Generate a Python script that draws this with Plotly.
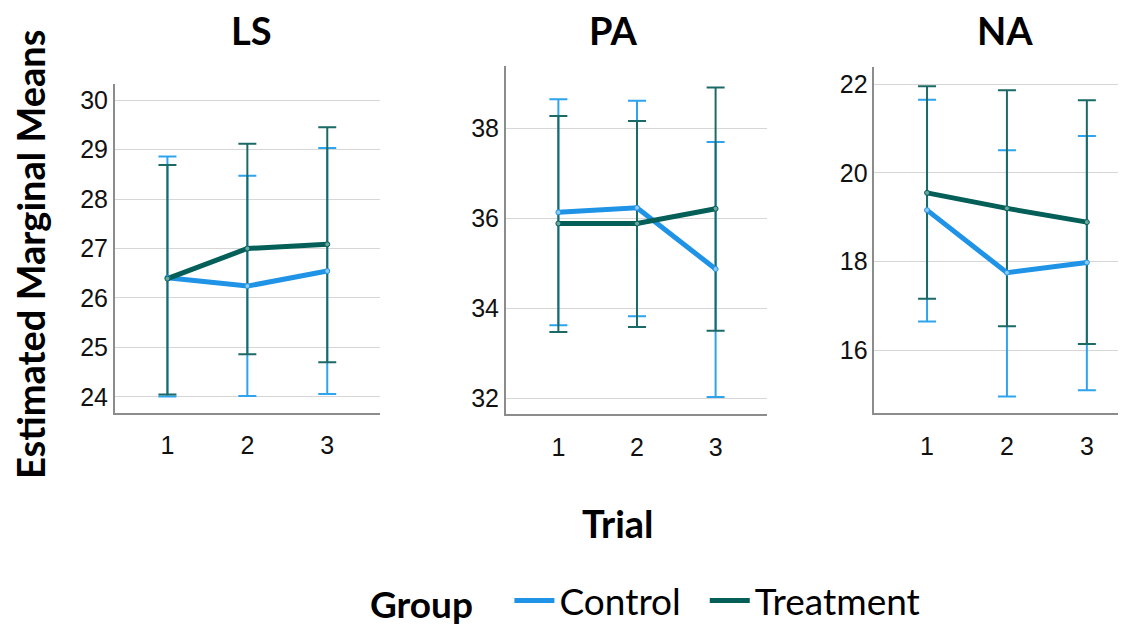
import plotly.graph_objects as go

trials = [1, 2, 3]
panels = ["LS", "PA", "NA"]

ls_control = [26.41, 26.24, 26.545]
ls_control_hi = [28.86, 28.47, 29.03]
ls_control_lo = [24.01, 24.02, 24.06]
ls_treat = [26.39, 27.00, 27.085]
ls_treat_hi = [28.69, 29.12, 29.45]
ls_treat_lo = [24.05, 24.86, 24.70]

pa_control = [36.13, 36.23, 34.87]
pa_control_hi = [38.64, 38.61, 37.69]
pa_control_lo = [33.62, 33.82, 32.03]
pa_treat = [35.88, 35.88, 36.21]
pa_treat_hi = [38.27, 38.16, 38.90]
pa_treat_lo = [33.47, 33.58, 33.50]

na_control = [19.16, 17.75, 17.98]
na_control_hi = [21.65, 20.51, 20.83]
na_control_lo = [16.65, 14.96, 15.10]
na_treat = [19.55, 19.20, 18.89]
na_treat_hi = [21.95, 21.86, 21.64]
na_treat_lo = [17.16, 16.54, 16.14]

C_LINE = "#1f93e6"
C_ERR = "#2ea3ee"
T_LINE = "#035f57"
T_ERR = "#1c6a67"

# the page body has an 8px margin; work in window pixels and convert
OFF = 8
W, H = 1126 - OFF, 626 - OFF


def px(x):
    return (x - OFF) / W


def py(y):
    return 1 - (y - OFF) / H


data = [
    (ls_control, ls_control_hi, ls_control_lo, ls_treat, ls_treat_hi, ls_treat_lo),
    (pa_control, pa_control_hi, pa_control_lo, pa_treat, pa_treat_hi, pa_treat_lo),
    (na_control, na_control_hi, na_control_lo, na_treat, na_treat_hi, na_treat_lo),
]

# pixel layout of each panel: (left, right, top, bottom), x range, y range, ticks
layouts = [
    ((114.7, 380.0, 84.3, 412.7), [0.34, 3.66], [23.68, 30.32], [24, 25, 26, 27, 28, 29, 30]),
    ((505.7, 766.7, 66.0, 414.0), [0.33, 3.65], [31.65, 39.38], [32, 34, 36, 38]),
    ((874.3, 1126.0, 67.3, 413.3), [0.34, 3.49], [14.58, 22.38], [16, 18, 20, 22]),
]

TICKFONT = dict(family="Liberation Sans, Arial", size=25, color="#111")

fig = go.Figure()

for i, (d, lay) in enumerate(zip(data, layouts)):
    c, chi, clo, t, thi, tlo = d
    (l, r, tp, bt), xr, yr, yt = lay
    ax = "" if i == 0 else str(i + 1)
    xa, ya = "x" + ax, "y" + ax

    for mean, hi, lo, ecol in [(c, chi, clo, C_ERR), (t, thi, tlo, T_ERR)]:
        fig.add_trace(go.Scatter(
            x=trials, y=mean, xaxis=xa, yaxis=ya, mode="markers",
            marker=dict(size=1, color="rgba(0,0,0,0)"),
            error_y=dict(type="data", symmetric=False,
                         array=[h - m for h, m in zip(hi, mean)],
                         arrayminus=[m - lo_ for m, lo_ in zip(mean, lo)],
                         color=ecol, thickness=2, width=9),
            showlegend=False, hoverinfo="skip"))

    fig.add_trace(go.Scatter(
        x=trials, y=c, xaxis=xa, yaxis=ya, mode="lines",
        line=dict(color=C_LINE, width=5),
        name="Control  ", legendgroup="c", showlegend=(i == 0)))
    fig.add_trace(go.Scatter(
        x=trials, y=t, xaxis=xa, yaxis=ya, mode="lines",
        line=dict(color=T_LINE, width=5),
        name="Treatment", legendgroup="t", showlegend=(i == 0)))
    fig.add_trace(go.Scatter(
        x=trials, y=c, xaxis=xa, yaxis=ya, mode="markers",
        marker=dict(size=5, color="#8ccaf2", line=dict(color=C_LINE, width=1)),
        showlegend=False, hoverinfo="skip"))
    fig.add_trace(go.Scatter(
        x=trials, y=t, xaxis=xa, yaxis=ya, mode="markers",
        marker=dict(size=5, color="#6aa6a0", line=dict(color=T_LINE, width=1)),
        showlegend=False, hoverinfo="skip"))

    xkey = "xaxis" + ax
    ykey = "yaxis" + ax
    fig.update_layout(**{
        xkey: dict(domain=[px(l), min(1.0, px(r))], range=xr, anchor=ya, automargin=False,
                   tickvals=trials, ticktext=[str(v) for v in trials],
                   showgrid=False, zeroline=False,
                   showline=True, linecolor="#8c8c8c", linewidth=1.5,
                   ticks="outside", ticklen=10, tickcolor="rgba(0,0,0,0)",
                   tickfont=TICKFONT),
        ykey: dict(domain=[py(bt), py(tp)], range=yr, anchor=xa, automargin=False,
                   tickvals=yt, showgrid=True, gridcolor="#d6d6d6", gridwidth=1.2,
                   zeroline=False, showline=True, linecolor="#8c8c8c", linewidth=1.5,
                   ticks="", tickfont=TICKFONT),
    })

annos = []
for name, cx in zip(panels, [251, 613, 1005]):
    annos.append(dict(text="<b>%s</b>" % name, x=px(cx), y=py(30), xref="paper", yref="paper",
                      showarrow=False, font=dict(family="Lato", size=38, color="black"),
                      xanchor="center", yanchor="middle"))
annos.append(dict(text="<b>Estimated Marginal Means</b>", x=px(30), y=py(255),
                  xref="paper", yref="paper", showarrow=False, textangle=-90,
                  font=dict(family="Lato", size=38, color="black"),
                  xanchor="center", yanchor="middle"))
annos.append(dict(text="<b>Trial</b>", x=px(618), y=py(523),
                  xref="paper", yref="paper", showarrow=False,
                  font=dict(family="Lato", size=38, color="black"),
                  xanchor="center", yanchor="middle"))

fig.update_layout(
    width=W, height=H,
    margin=dict(l=0, r=0, t=0, b=0, autoexpand=False),
    paper_bgcolor="white", plot_bgcolor="white",
    annotations=annos,
    legend=dict(orientation="h", x=px(368), y=py(601), xanchor="left", yanchor="middle",
                title=dict(text="<b>Group</b>   ", font=dict(family="Lato", size=37, color="black")),
                font=dict(family="Lato", size=37, color="black"),
                itemwidth=40, tracegroupgap=0),
)

fig.write_html("out.html")
